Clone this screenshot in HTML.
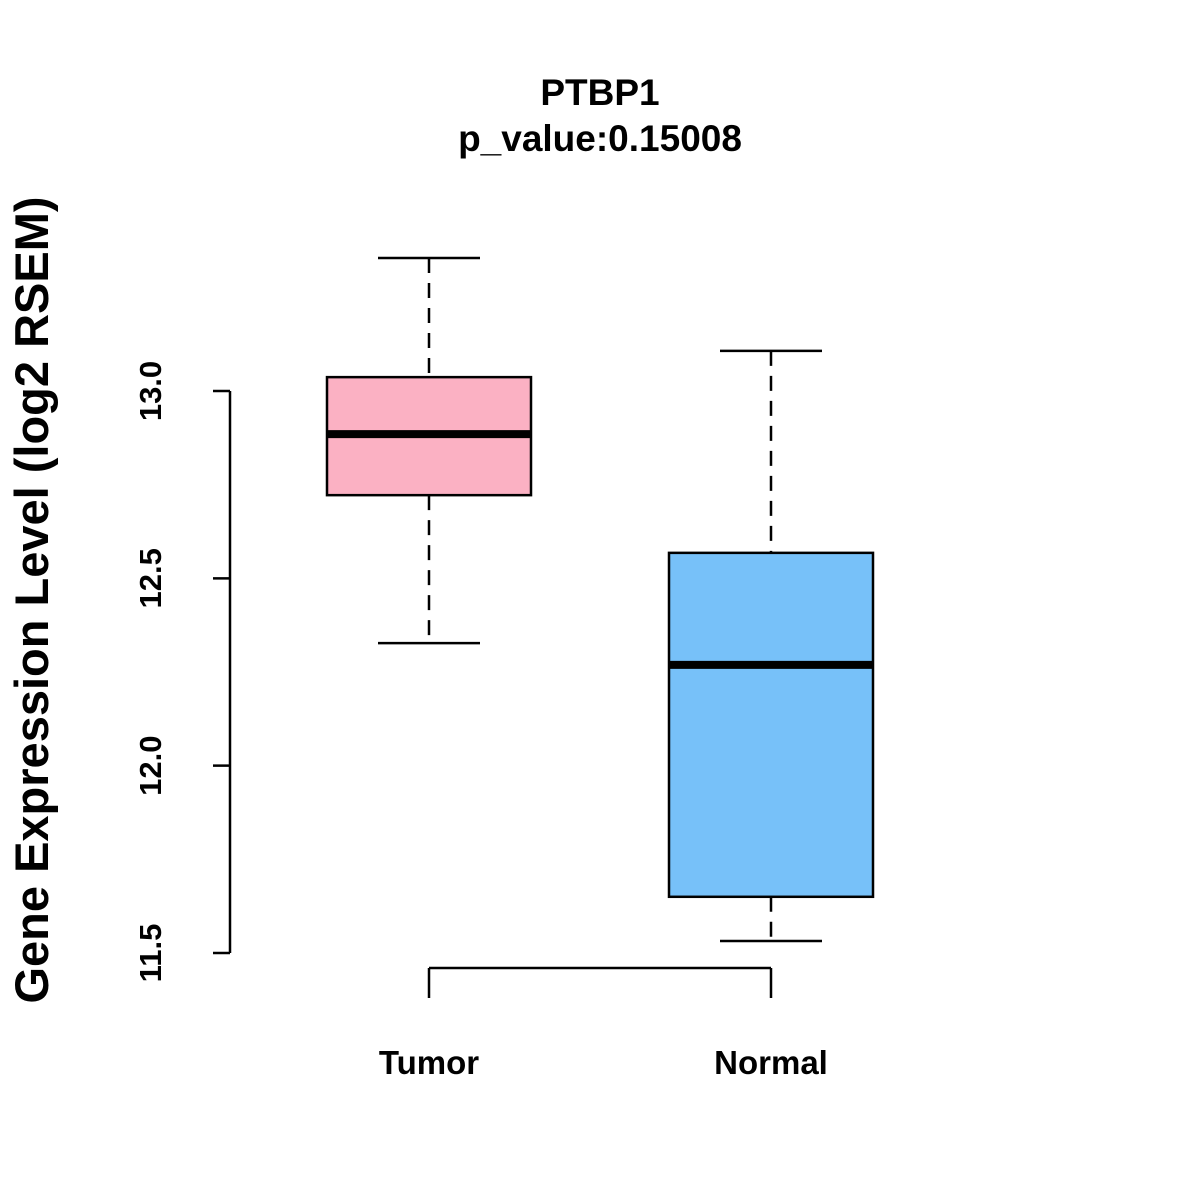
<!DOCTYPE html>
<html><head><meta charset="utf-8"><style>body{margin:0;background:#fff}svg{display:block}text{font-family:"Liberation Sans",sans-serif;font-weight:bold;fill:#000}</style></head>
<body>
<svg id="chart" width="1200" height="1200" viewBox="0 0 1200 1200">
<rect width="1200" height="1200" fill="#fff"/>
<text x="600" y="105" font-size="37" text-anchor="middle">PTBP1</text>
<text x="600" y="151" font-size="37" text-anchor="middle">p_value:0.15008</text>
<text transform="translate(48,600) rotate(-90)" font-size="47" text-anchor="middle">Gene Expression Level (log2 RSEM)</text>
<g id="g"></g>
</svg>
<script>
const categories=["Tumor","Normal"];
const whiskerHigh=[13.355,13.107];
const q3=[13.037,12.568];
const medians=[12.885,12.269];
const q1=[12.722,11.650];
const whiskerLow=[12.327,11.532];
const colors=["#FBB1C3","#77C1F9"];
const yTicks=[11.5,12.0,12.5,13.0];
const yTickLabels=["11.5","12.0","12.5","13.0"];
const NS="http://www.w3.org/2000/svg";
const g=document.getElementById("g");
function y(v){return 391+(13.0-v)*374.67;}
function x(i){return 429+i*342;}
function mk(t,a){const e=document.createElementNS(NS,t);for(const k in a)e.setAttribute(k,a[k]);g.appendChild(e);return e;}
let e=mk("line",{x1:230,x2:230,y1:y(yTicks[0]),y2:y(yTicks[yTicks.length-1]),stroke:"#000","stroke-width":2.5});


yTicks.forEach((v,i)=>{
 const t=mk("line",{x1:213,x2:230,y1:y(v),y2:y(v),stroke:"#000","stroke-width":2.5});
 
 
 const l=mk("text",{transform:`translate(161,${y(v)}) rotate(-90)`,"font-size":31,"text-anchor":"middle"});
 l.textContent=yTickLabels[i];
 
 
});
e=mk("line",{x1:x(0),x2:x(categories.length-1),y1:968,y2:968,stroke:"#000","stroke-width":2.5});


categories.forEach((c,i)=>{
 const cx=x(i);
 const t=mk("line",{x1:cx,x2:cx,y1:968,y2:998,stroke:"#000","stroke-width":2.5});
 
 
 const l=mk("text",{x:cx,y:1074,"font-size":33,"text-anchor":"middle"});
 l.textContent=c;
 
 
 const w1=mk("line",{x1:cx,x2:cx,y1:y(whiskerHigh[i]),y2:y(q3[i]),stroke:"#000","stroke-width":2.5,"stroke-dasharray":"15,10"});
 
 
 const w2=mk("line",{x1:cx,x2:cx,y1:y(q1[i]),y2:y(whiskerLow[i]),stroke:"#000","stroke-width":2.5,"stroke-dasharray":"15,10"});
 
 
 const c1=mk("line",{x1:cx-51,x2:cx+51,y1:y(whiskerHigh[i]),y2:y(whiskerHigh[i]),stroke:"#000","stroke-width":2.5});
 
 
 const c2=mk("line",{x1:cx-51,x2:cx+51,y1:y(whiskerLow[i]),y2:y(whiskerLow[i]),stroke:"#000","stroke-width":2.5});
 
 
 const b=mk("rect",{x:cx-102,y:y(q3[i]),width:204,height:y(q1[i])-y(q3[i]),fill:colors[i],stroke:"#000","stroke-width":2.5});
 
 
 const m=mk("line",{x1:cx-102,x2:cx+102,y1:y(medians[i]),y2:y(medians[i]),stroke:"#000","stroke-width":8});
 
 
});
</script>
</body></html>
